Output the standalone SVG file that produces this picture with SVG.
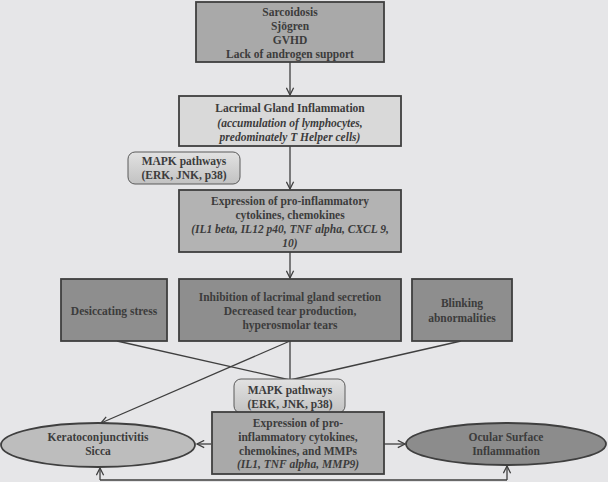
<svg xmlns="http://www.w3.org/2000/svg" width="608" height="482" viewBox="0 0 608 482">
<style>
text{font-family:"Liberation Serif","Times New Roman",serif;font-weight:bold;font-size:11.5px;fill:#3c3c3c;text-anchor:middle}
.i{font-style:italic}
.box{stroke:#3f3f3f;stroke-width:1.8}
.ln{stroke:#3f3f3f;stroke-width:1.3;fill:none}
</style>
<defs>
<marker id="ah" viewBox="0 0 10 10" refX="9" refY="5" markerWidth="9" markerHeight="9" markerUnits="userSpaceOnUse" orient="auto">
<polyline points="1,1 9,5 1,9" fill="none" stroke="#3f3f3f" stroke-width="1.4"/>
</marker>
<linearGradient id="mg" x1="0" y1="0" x2="0" y2="1">
<stop offset="0" stop-color="#e2e2e2"/>
<stop offset="1" stop-color="#c2c2c2"/>
</linearGradient>
</defs>
<rect width="608" height="482" fill="#e6e6e8"/>
<g id="connectors">
<line class="ln" x1="290" y1="62" x2="290" y2="95" marker-end="url(#ah)"/>
<line class="ln" x1="290" y1="146" x2="290" y2="189" marker-end="url(#ah)"/>
<line class="ln" x1="290" y1="252" x2="290" y2="278" marker-end="url(#ah)"/>
<line class="ln" x1="117" y1="341" x2="290" y2="380"/>
<line class="ln" x1="461" y1="341" x2="290" y2="380"/>
<line class="ln" x1="290" y1="341" x2="290" y2="380"/>
<line class="ln" x1="290" y1="341" x2="101" y2="423" marker-end="url(#ah)"/>
<line class="ln" x1="211" y1="444" x2="197" y2="444" marker-end="url(#ah)"/>
<line class="ln" x1="384" y1="444" x2="405" y2="444" marker-end="url(#ah)"/>
<polyline class="ln" points="100,480 507,480"/>
<line class="ln" x1="100" y1="480" x2="100" y2="468" marker-end="url(#ah)"/>
<line class="ln" x1="507" y1="480" x2="507" y2="466" marker-end="url(#ah)"/>
</g>
<g id="causes">
<rect class="box" x="196" y="2" width="188" height="60" fill="#a9a9a9"/>
<text x="290" y="16">Sarcoidosis</text>
<text x="290" y="30">Sjögren</text>
<text x="290" y="44">GVHD</text>
<text x="290" y="58">Lack of androgen support</text>
</g>
<g id="lacrimal-inflammation">
<rect class="box" x="179" y="96" width="222" height="50" fill="#d9d9d9"/>
<text x="290" y="112">Lacrimal Gland Inflammation</text>
<text x="290" y="127" class="i">(accumulation of lymphocytes,</text>
<text x="290" y="141" class="i">predominately T Helper cells)</text>
</g>
<g id="mapk-1">
<rect x="128" y="152" width="112" height="32" rx="7" fill="url(#mg)" stroke="#5a5a5a" stroke-width="1"/>
<text x="184" y="165">MAPK pathways</text>
<text x="184" y="179">(ERK, JNK, p38)</text>
</g>
<g id="expression-1">
<rect class="box" x="179" y="190" width="222" height="62" fill="#b3b3b3"/>
<text x="290" y="205">Expression of pro-inflammatory</text>
<text x="290" y="219">cytokines, chemokines</text>
<text x="290" y="233" class="i">(IL1 beta, IL12 p40, TNF alpha, CXCL 9,</text>
<text x="290" y="247" class="i">10)</text>
</g>
<g id="desiccating">
<rect class="box" x="61" y="279" width="106" height="62" fill="#8e8e8e"/>
<text x="114" y="315">Desiccating stress</text>
</g>
<g id="inhibition">
<rect class="box" x="179" y="279" width="222" height="62" fill="#8e8e8e"/>
<text x="290" y="301">Inhibition of lacrimal gland secretion</text>
<text x="290" y="315">Decreased tear production,</text>
<text x="290" y="329">hyperosmolar tears</text>
</g>
<g id="blinking">
<rect class="box" x="412" y="279" width="100" height="62" fill="#8e8e8e"/>
<text x="462" y="307">Blinking</text>
<text x="462" y="322">abnormalities</text>
</g>
<g id="mapk-2">
<rect x="234" y="379" width="111" height="34" rx="7" fill="url(#mg)" stroke="#5a5a5a" stroke-width="1"/>
<text x="290" y="394">MAPK pathways</text>
<text x="290" y="408">(ERK, JNK, p38)</text>
</g>
<g id="expression-2">
<rect class="box" x="212" y="412" width="172" height="62" fill="#a9a9a9"/>
<text x="298" y="427">Expression of pro-</text>
<text x="298" y="441">inflammatory cytokines,</text>
<text x="298" y="455">chemokines, and MMPs</text>
<text x="298" y="468" class="i">(IL1, TNF alpha, MMP9)</text>
</g>
<g id="kcs">
<ellipse class="box" cx="98" cy="445" rx="97" ry="22" fill="#bdbdbd"/>
<text x="98" y="441">Keratoconjunctivitis</text>
<text x="98" y="455">Sicca</text>
</g>
<g id="ocular">
<ellipse class="box" cx="506" cy="444" rx="100" ry="21" fill="#8c8c8c"/>
<text x="506" y="441">Ocular Surface</text>
<text x="506" y="455">Inflammation</text>
</g>
</svg>
